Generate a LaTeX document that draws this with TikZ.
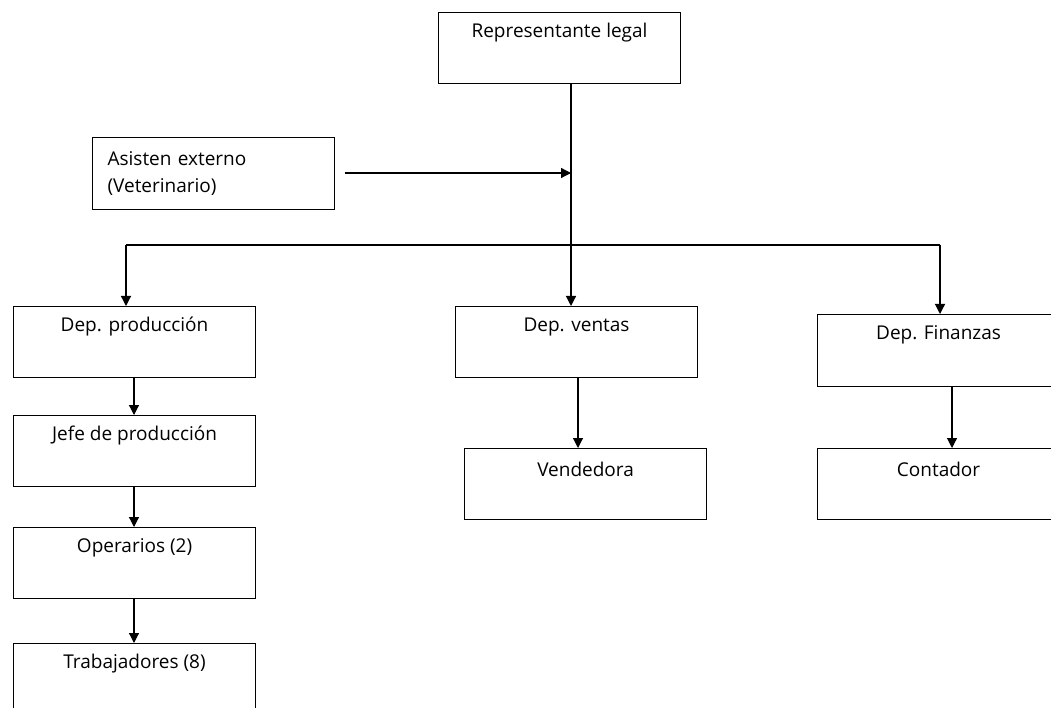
\documentclass[tikz,border=0pt]{standalone}
\usepackage{fontspec}
\setmainfont{Open Sans}
\usetikzlibrary{arrows.meta}
\begin{document}
\begin{tikzpicture}[x=1pt,y=-1pt,
  orgbox/.style={draw, line width=1.1pt, anchor=north west, inner sep=0pt,
    minimum width=242pt, minimum height=71pt},
  lbl/.style={font=\fontsize{19}{27}\selectfont},
  title/.style={label={[anchor=center,yshift=-21pt,lbl]north:#1}},
  link/.style={line width=1.2pt},
  arr/.style={link, -{Triangle[length=10pt,width=10pt]}}]
\clip (0,0) rectangle (1051,708);
\fill[white] (0,0) rectangle (1051,708);

% boxes
\node[orgbox, title={Representante legal}] (rep) at (438,12) {};
\node[orgbox, minimum height=72pt, text width=212pt, align=left, inner xsep=15pt, lbl]
  (asis) at (92,137) {Asisten externo\\(Veterinario)};
\node[orgbox, title={Dep. producción}] (prod) at (13,306) {};
\node[orgbox, title={Jefe de producción}] (jefe) at (13,415) {};
\node[orgbox, title={Operarios (2)}] (oper) at (13,527) {};
\node[orgbox, title={Trabajadores (8)}] (trab) at (13,643) {};
\node[orgbox, title={Dep. ventas}] (vent) at (455,306) {};
\node[orgbox, title={Vendedora}] (vend) at (464,448) {};
\node[orgbox, minimum height=72pt, title={Dep. Finanzas}] (fin) at (817,314) {};
\node[orgbox, title={Contador}] (cont) at (817,448) {};

% connector points
\coordinate (spine) at (571,245);
\coordinate (leftbr) at (126,245);
\coordinate (rightbr) at (940,245);
\coordinate (extstart) at (345,173);
\coordinate (extend) at (571,173);

% main trunk and branches
\draw[arr] (rep.south -| spine) -- (vent.north -| spine);
\draw[link] (leftbr) -- (rightbr);
\draw[arr] (leftbr) -- (prod.north -| leftbr);
\draw[arr] (rightbr) -- (fin.north -| rightbr);
\draw[arr] (extstart) -- (extend);

% chains below departments
\draw[arr] (prod.south -| 134,0) -- (jefe.north -| 134,0);
\draw[arr] (jefe.south -| 134,0) -- (oper.north -| 134,0);
\draw[arr] (oper.south -| 134,0) -- (trab.north -| 134,0);
\draw[arr] (vent.south -| 578,0) -- (vend.north -| 578,0);
\draw[arr] (fin.south -| 952,0) -- (cont.north -| 952,0);
\end{tikzpicture}
\end{document}
